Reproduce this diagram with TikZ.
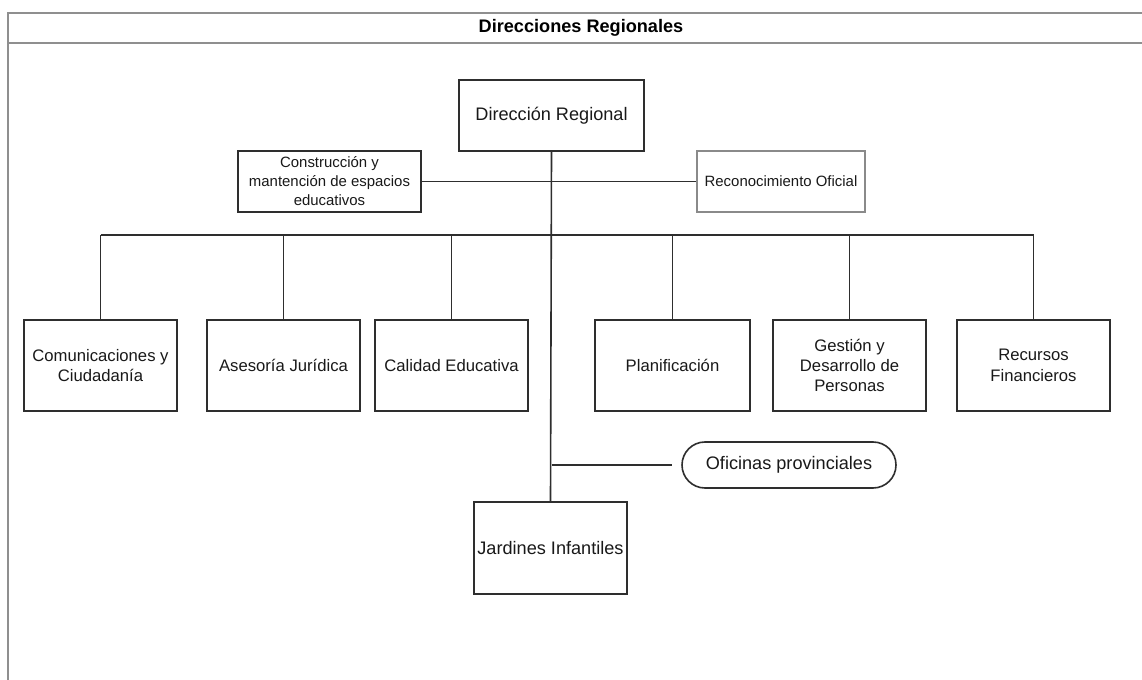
\documentclass[tikz,border=0pt]{standalone}
\usepackage{fontspec}
\setmainfont{Liberation Sans}
\newdimen\pxu \pxu=0.75pt
\definecolor{framegray}{HTML}{8F8F8F}
\definecolor{boxline}{HTML}{2E2E2E}
\definecolor{softline}{HTML}{8A8A8A}
\newcommand{\bigtxt}{\fontsize{13.6}{16.2}\selectfont}
\newcommand{\midtxt}{\fontsize{12.5}{15.3}\selectfont}
\newcommand{\smalltxt}{\fontsize{11.2}{14.2}\selectfont}
\begin{document}
\begin{tikzpicture}[x=\pxu, y=-\pxu,
    unit/.style={draw=boxline, line width=1.2pt, fill=white, align=center, inner sep=0pt, text=black!90},
    head/.style={unit, font=\bigtxt, minimum width=185*\pxu, minimum height=71*\pxu},
    side/.style={unit, font=\smalltxt, minimum width=183*\pxu, minimum height=61*\pxu},
    dept/.style={unit, font=\midtxt, minimum width=153*\pxu, minimum height=91*\pxu},
    office/.style={unit, font=\bigtxt, rounded corners=23*\pxu, minimum width=214*\pxu, minimum height=46*\pxu},
    link/.style={draw=boxline, line width=1.2pt}]
    \useasboundingbox (0,0) rectangle (1142,680);
    \clip (0,0) rectangle (1142,680);
    % marco
    \draw[framegray, line width=1.5pt] (8,700) -- (8,13) -- (1160,13);
    \draw[framegray, line width=1.5pt] (8,43) -- (1160,43);
    \node[font=\bigtxt\bfseries] (title) at (581,28) {Direcciones Regionales};
    % nodos
    \node[head] (dr) at (551.5,115.5) {Dirección Regional};
    \node[side] (cons) at (329.5,181.5) {Construcción y\\mantención de espacios\\educativos};
    \node[side, draw=softline, minimum width=168*\pxu] (reco) at (781,181.5) {Reconocimiento Oficial};
    \node[dept] (com) at (100.5,365.5) {Comunicaciones y\\Ciudadanía};
    \node[dept] (ase) at (283.5,365.5) {Asesoría Jurídica};
    \node[dept] (cal) at (451.5,365.5) {Calidad Educativa};
    \node[dept, minimum width=155*\pxu] (pla) at (672.5,365.5) {Planificación};
    \node[dept] (ges) at (849.5,365.5) {Gestión y\\Desarrollo de\\Personas};
    \node[dept] (rec) at (1033.5,365.5) {Recursos\\Financieros};
    \node[office] (ofi) at (789,465) {Oficinas provinciales};
    \node[dept, font=\bigtxt, minimum height=92*\pxu] (jar) at (550.5,548) {Jardines Infantiles};
    \coordinate (bus) at (551,235);
    \coordinate (ofiend) at (672,465);
    % conectores
    \draw[link] (dr.south) -- (jar.north);
    \draw[link] (cons.east) -- (reco.west);
    \draw[link] (com.north |- bus) -- (rec.north |- bus);
    \foreach \d in {com,ase,cal,pla,ges,rec}
        \draw[link] (\d.north) -- (\d.north |- bus);
    \draw[link] (dr.south |- ofiend) -- (ofiend);
\end{tikzpicture}
\end{document}
